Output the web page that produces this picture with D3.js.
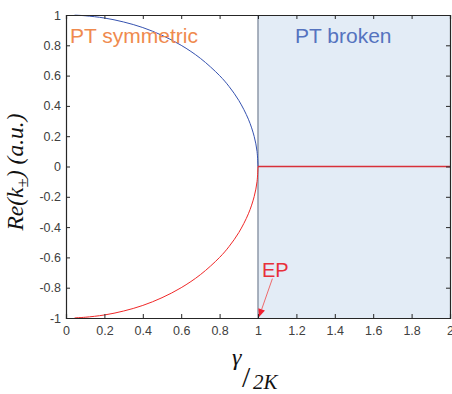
<!DOCTYPE html>
<html>
<head>
<meta charset="utf-8">
<script src="https://cdn.jsdelivr.net/npm/d3@7"></script>
<style>
  body { margin: 0; background: #fff; }
  svg { display: block; }
</style>
</head>
<body>
<div id="canvas"></div>
<script>
// values
const gammaVals = [0.045, 0.1, 0.2, 0.3, 0.4, 0.5, 0.6, 0.7, 0.8, 0.85, 0.9, 0.95, 0.98, 0.995, 1];
const reUpper = [0.999, 0.995, 0.98, 0.954, 0.917, 0.866, 0.8, 0.714, 0.6, 0.527, 0.436, 0.312, 0.199, 0.1, 0];
const reLower = [-0.999, -0.995, -0.98, -0.954, -0.917, -0.866, -0.8, -0.714, -0.6, -0.527, -0.436, -0.312, -0.199, -0.1, 0];
const brokenGamma = [1, 2];
const brokenRe = [0, 0];

const xTicks = [0, 0.2, 0.4, 0.6, 0.8, 1, 1.2, 1.4, 1.6, 1.8, 2];
const xTickLabels = ["0", "0.2", "0.4", "0.6", "0.8", "1", "1.2", "1.4", "1.6", "1.8", "2"];
const yTicks = [-1, -0.8, -0.6, -0.4, -0.2, 0, 0.2, 0.4, 0.6, 0.8, 1];
const yTickLabels = ["-1", "-0.8", "-0.6", "-0.4", "-0.2", "0", "0.2", "0.4", "0.6", "0.8", "1"];

const width = 452;
const height = 394;
const margin = { top: 15, right: 2, bottom: 76, left: 66 };
const iwidth = width - margin.left - margin.right;
const iheight = height - margin.top - margin.bottom;

const svg = d3.select("#canvas").append("svg")
  .attr("width", width)
  .attr("height", height);

const g = svg.append("g")
  .attr("transform", `translate(${margin.left}, ${margin.top})`);

const x = d3.scaleLinear().domain([0, 2]).range([0, iwidth]);
const y = d3.scaleLinear().domain([-1, 1]).range([iheight, 0]);

// PT broken shaded region
g.append("rect")
  .attr("x", x(1))
  .attr("y", y(1))
  .attr("width", x(2) - x(1))
  .attr("height", y(-1) - y(1))
  .style("fill", "#e3ecf6");

g.append("line")
  .attr("x1", x(1)).attr("x2", x(1))
  .attr("y1", y(1)).attr("y2", y(-1))
  .style("stroke", "#8e99a8")
  .style("stroke-width", 1.5);

const line = d3.line()
  .x((d) => x(d[0]))
  .y((d) => y(d[1]))
  .curve(d3.curveCatmullRom.alpha(0.5));

const upper = gammaVals.map((gm, i) => [gm, reUpper[i]]);
const lower = gammaVals.map((gm, i) => [gm, reLower[i]]);
const broken = brokenGamma.map((gm, i) => [gm, brokenRe[i]]);

g.append("path")
  .datum(upper)
  .attr("d", line)
  .style("fill", "none")
  .style("stroke", "#3552b0")
  .style("stroke-width", 1);

g.append("path")
  .datum(lower)
  .attr("d", line)
  .style("fill", "none")
  .style("stroke", "#f02828")
  .style("stroke-width", 1);

g.append("path")
  .datum(broken)
  .attr("d", d3.line().x((d) => x(d[0])).y((d) => y(d[1])))
  .style("fill", "none")
  .style("stroke", "#d8303a")
  .style("stroke-width", 1.3);

// axes, MATLAB style inward ticks
const axisColor = "#262626";
const tickFont = "12.5px 'Liberation Sans', Arial, sans-serif";

const xAxis = g.append("g")
  .attr("transform", `translate(0, ${iheight})`)
  .call(d3.axisBottom(x).tickValues(xTicks).tickFormat((d, i) => xTickLabels[i]).tickSize(-4).tickPadding(8));
const yAxis = g.append("g")
  .call(d3.axisLeft(y).tickValues(yTicks).tickFormat((d, i) => yTickLabels[i]).tickSize(-4).tickPadding(5));
const xTop = g.append("g")
  .call(d3.axisTop(x).tickValues(xTicks).tickFormat("").tickSize(-4));
const yRight = g.append("g")
  .attr("transform", `translate(${iwidth}, 0)`)
  .call(d3.axisRight(y).tickValues(yTicks).tickFormat("").tickSize(-4));

[xAxis, yAxis, xTop, yRight].forEach((a) => {
  a.selectAll("path").style("stroke", axisColor).style("stroke-width", 1.2);
  a.selectAll("line").style("stroke", axisColor);
  a.selectAll("text").style("font", tickFont).style("fill", "#404040");
});

// annotations
svg.append("text")
  .attr("x", 70).attr("y", 43)
  .style("font", "21px 'Liberation Sans', Arial, sans-serif")
  .style("fill", "#ef8a4e")
  .text("PT symmetric");

svg.append("text")
  .attr("x", 295).attr("y", 43)
  .style("font", "21px 'Liberation Sans', Arial, sans-serif")
  .style("fill", "#5573bf")
  .text("PT broken");

svg.append("text")
  .attr("x", 262).attr("y", 277)
  .style("font", "20px 'Liberation Sans', Arial, sans-serif")
  .style("fill", "#e8303a")
  .text("EP");

// EP arrow
const tail = [1.075, -0.74];
const tip = [1, -1];
const x0 = margin.left + x(tail[0]), y0 = margin.top + y(tail[1]);
const x1 = margin.left + x(tip[0]) + 1, y1 = margin.top + y(tip[1]) - 1;
const ang = Math.atan2(y1 - y0, x1 - x0);
const hl = 8, hw = 3.5;
const bx = x1 - hl * Math.cos(ang), by = y1 - hl * Math.sin(ang);
svg.append("line")
  .attr("x1", x0).attr("y1", y0)
  .attr("x2", bx).attr("y2", by)
  .style("stroke", "#f04848").style("stroke-width", 0.8);
svg.append("polygon")
  .attr("points", [
    [x1, y1],
    [bx + hw * Math.sin(ang), by - hw * Math.cos(ang)],
    [bx - hw * Math.sin(ang), by + hw * Math.cos(ang)]
  ].map((p) => p.join(",")).join(" "))
  .style("fill", "#f02030");

// y label
const ylab = svg.append("text")
  .attr("transform", "translate(23, 172) rotate(-90)")
  .attr("text-anchor", "middle")
  .style("font", "italic 23.5px 'Liberation Serif', 'Times New Roman', serif")
  .style("fill", "#111");
ylab.append("tspan").text("Re(k");
ylab.append("tspan").attr("dy", 5).style("font-size", "17px").style("font-style", "normal").text("±");
ylab.append("tspan").attr("dy", -5).text(") (a.u.)");

// x label: gamma / 2K
const xlab = svg.append("g").style("fill", "#111");
xlab.append("text")
  .attr("x", 232).attr("y", 365)
  .style("font", "italic 24px 'Liberation Serif', 'Times New Roman', serif")
  .text("γ");
xlab.append("text")
  .attr("x", 242).attr("y", 387)
  .style("font", "30px 'Liberation Serif', 'Times New Roman', serif")
  .text("/");
xlab.append("text")
  .attr("x", 253).attr("y", 389)
  .style("font", "italic 21px 'Liberation Serif', 'Times New Roman', serif")
  .text("2K");
</script>
</body>
</html>
